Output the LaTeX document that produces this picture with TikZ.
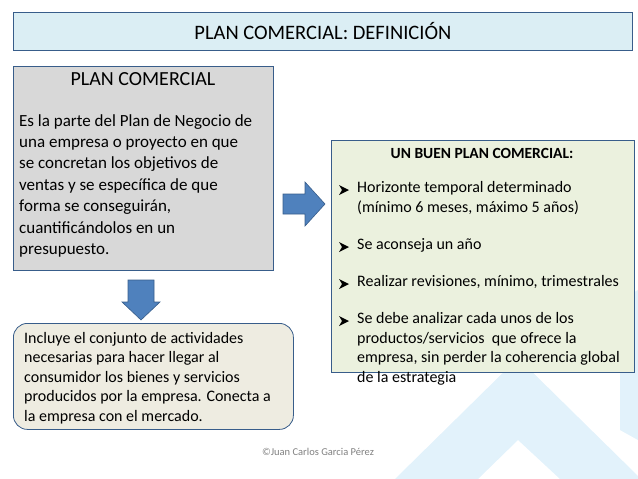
\documentclass[tikz,border=0pt]{standalone}
\usepackage{fontspec}
\setmainfont{Carlito}
\definecolor{bluefill}{RGB}{79,129,189}
\definecolor{bluedark}{RGB}{56,93,138}
\definecolor{titlefill}{RGB}{219,238,244}
\definecolor{greyfill}{RGB}{216,216,216}
\definecolor{greenfill}{RGB}{235,241,222}
\definecolor{beigefill}{RGB}{238,236,225}
\definecolor{logo}{RGB}{226,242,251}
\tikzset{
 boxline/.style={draw=bluedark, line width=0.8pt},
 bigarrow/.style={fill=bluefill, draw=bluedark, line width=0.6pt},
}
\begin{document}
\begin{tikzpicture}[x=1pt,y=-1pt]
\useasboundingbox (0,0) rectangle (638,479);
% background logo
\fill[logo] (395,479) -- (518,358) -- (638,476) -- (638,479) -- (560,479) -- (518,440) -- (478,479) -- cycle;
\fill[logo] (620,300) -- (638,290) -- (638,440) -- (620,430) -- cycle;
% title
\node[boxline, fill=titlefill, minimum width=619pt, minimum height=38pt, anchor=north west, font=\fontsize{20.5}{24}\selectfont] (title) at (13,12) {PLAN COMERCIAL: DEFINICIÓN};
% left box
\node[boxline, fill=greyfill, minimum width=260pt, minimum height=204pt, anchor=north west] (left) at (13,66) {};
\node[anchor=north, font=\fontsize{20}{24}\selectfont] (lefttitle) at (143,69) {PLAN COMERCIAL};
\node[anchor=north west, align=left, inner sep=0pt, font=\fontsize{17}{21.4}\selectfont] (lefttext) at (19,114) {Es la parte del Plan de Negocio de\\una empresa o proyecto en que\\se concretan los objetivos de\\ventas y se específica de que\\forma se conseguirán,\\cuantificándolos en un\\presupuesto.};
% right box
\node[boxline, fill=greenfill, minimum width=303pt, minimum height=232pt, anchor=north west] (right) at (331,140) {};
\node[anchor=north, font=\bfseries\fontsize{15.5}{18}\selectfont] (righttitle) at (482,145) {UN BUEN PLAN COMERCIAL:};
\begin{scope}[every node/.style={anchor=north west, align=left, inner sep=0pt, font=\fontsize{16}{19.8}\selectfont}]
\node (b1) at (357,181) {Horizonte temporal determinado\\(mínimo 6 meses, máximo 5 años)};
\node (b2) at (357,238) {Se aconseja un año};
\node (b3) at (357,275) {Realizar revisiones, mínimo, trimestrales};
\node (b4) at (357,312) {Se debe analizar cada unos de los\\productos/servicios\ \ que ofrece la\\empresa, sin perder la coherencia global\\de la estrategia};
\end{scope}
\foreach \yy in {190,247,284,321}
  \fill[black] (339,\yy-5) -- (349,\yy) -- (339,\yy+5) -- (342,\yy) -- cycle;
% bottom box
\node[boxline, fill=beigefill, rounded corners=14pt, minimum width=280pt, minimum height=106pt, anchor=north west] (bottom) at (13,323) {};
\node[anchor=north west, align=left, inner sep=0pt, font=\fontsize{16}{19.5}\selectfont] (bottomtext) at (24,332) {Incluye el conjunto de actividades\\necesarias para hacer llegar al\\consumidor los bienes y servicios\\producidos por la empresa. Conecta a\\la empresa con el mercado.};
% arrows
\draw[bigarrow] (283,194) -- (305,194) -- (305,182) -- (325,204) -- (305,226) -- (305,214) -- (283,214) -- cycle;
\coordinate (arr1) at (304,204);
\draw[bigarrow] (128,280) -- (154,280) -- (154,302) -- (160,302) -- (141,320) -- (122,302) -- (128,302) -- cycle;
\coordinate (arr2) at (141,300);
% footer
\node[font=\fontsize{10.5}{12}\selectfont, text=gray] (footer) at (318,452) {©Juan Carlos Garcia Pérez};
\end{tikzpicture}
\end{document}
